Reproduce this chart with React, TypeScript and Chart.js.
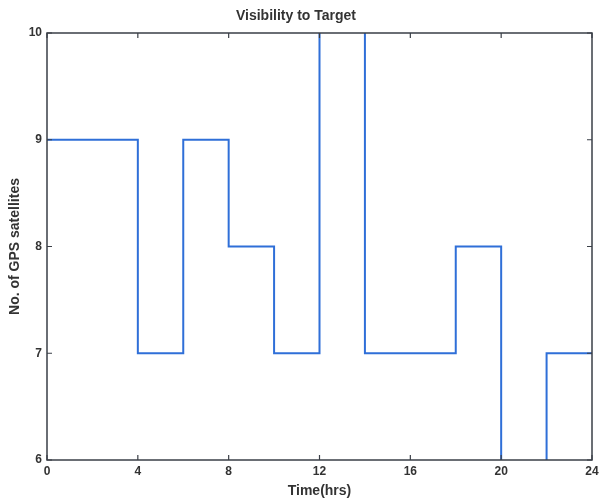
import React, { useEffect, useRef } from "react";
import { Chart, registerables } from "chart.js";

Chart.register(...registerables);

const times = [0, 4, 6, 8, 10, 12, 14, 18, 20, 22, 24];
const satellites = [9, 7, 9, 8, 7, 11, 7, 8, 5, 7, 7];
const xTicks = [0, 4, 8, 12, 16, 20, 24];
const yTicks = [6, 7, 8, 9, 10];

const AXIS = "#3a3f47";

const boxPlugin = {
  id: "boxTicks",
  afterDatasetsDraw(chart: any) {
    const { ctx, chartArea: a, scales } = chart;
    const x = scales.x;
    const y = scales.y;
    ctx.save();
    ctx.strokeStyle = AXIS;
    ctx.lineWidth = 1.5;
    ctx.strokeRect(a.left, a.top, a.right - a.left, a.bottom - a.top);
    ctx.lineWidth = 1.2;
    const L = 5;
    ctx.beginPath();
    xTicks.forEach((v) => {
      const px = x.getPixelForValue(v);
      ctx.moveTo(px, a.bottom);
      ctx.lineTo(px, a.bottom - L);
      ctx.moveTo(px, a.top);
      ctx.lineTo(px, a.top + L);
    });
    yTicks.forEach((v) => {
      const py = y.getPixelForValue(v);
      ctx.moveTo(a.left, py);
      ctx.lineTo(a.left + L, py);
      ctx.moveTo(a.right, py);
      ctx.lineTo(a.right - L, py);
    });
    ctx.stroke();
    ctx.restore();
  },
};

export default function App() {
  const ref = useRef<HTMLCanvasElement>(null);
  useEffect(() => {
    const family = "Arial, 'Liberation Sans', sans-serif";
    const font = { family, size: 12, weight: "bold" as const };
    const bigFont = { family, size: 14, weight: "bold" as const };
    const chart = new Chart(ref.current as HTMLCanvasElement, {
      type: "line",
      data: {
        datasets: [
          {
            data: times.map((t, i) => ({ x: t, y: satellites[i] })),
            stepped: "before",
            borderColor: "#2f6fd8",
            borderWidth: 2,
            pointRadius: 0,
            fill: false,
          },
        ],
      },
      options: {
        animation: false,
        responsive: false,
        layout: { padding: { left: 0, right: 8, top: 0, bottom: 0 } },
        plugins: {
          legend: { display: false },
          tooltip: { enabled: false },
          title: {
            display: true,
            text: "Visibility to Target",
            color: "#333",
            font: bigFont,
            padding: { top: 7.6, bottom: 8.6 },
          },
        },
        scales: {
          x: {
            type: "linear",
            min: 0,
            max: 24,
            afterBuildTicks: (s: any) => {
              s.ticks = xTicks.map((v) => ({ value: v }));
            },
            afterFit: (s: any) => {
              s.height = 40;
              s.paddingRight = 0;
              s.paddingLeft = 0;
            },
            grid: { display: false, drawTicks: false },
            border: { display: false },
            ticks: { color: "#333", font, padding: 4, maxRotation: 0 },
            title: {
              display: true,
              text: "Time(hrs)",
              color: "#333",
              font: bigFont,
              padding: { top: 0, bottom: 0 },
            },
          },
          y: {
            type: "linear",
            min: 6,
            max: 10,
            afterBuildTicks: (s: any) => {
              s.ticks = yTicks.map((v) => ({ value: v }));
            },
            afterFit: (s: any) => {
              s.width = 47;
            },
            grid: { display: false, drawTicks: false },
            border: { display: false },
            ticks: { color: "#333", font, padding: 5 },
            title: {
              display: true,
              text: "No. of GPS satellites",
              color: "#333",
              font: bigFont,
              padding: { top: 7, bottom: 6 },
            },
          },
        },
      },
      plugins: [boxPlugin],
    });
    return () => chart.destroy();
  }, []);
  return (
    <div style={{ position: "fixed", left: 0, top: 0, width: 600, height: 500, background: "#fff" }}>
      <canvas ref={ref} width={600} height={500} style={{ width: 600, height: 500 }} />
    </div>
  );
}
